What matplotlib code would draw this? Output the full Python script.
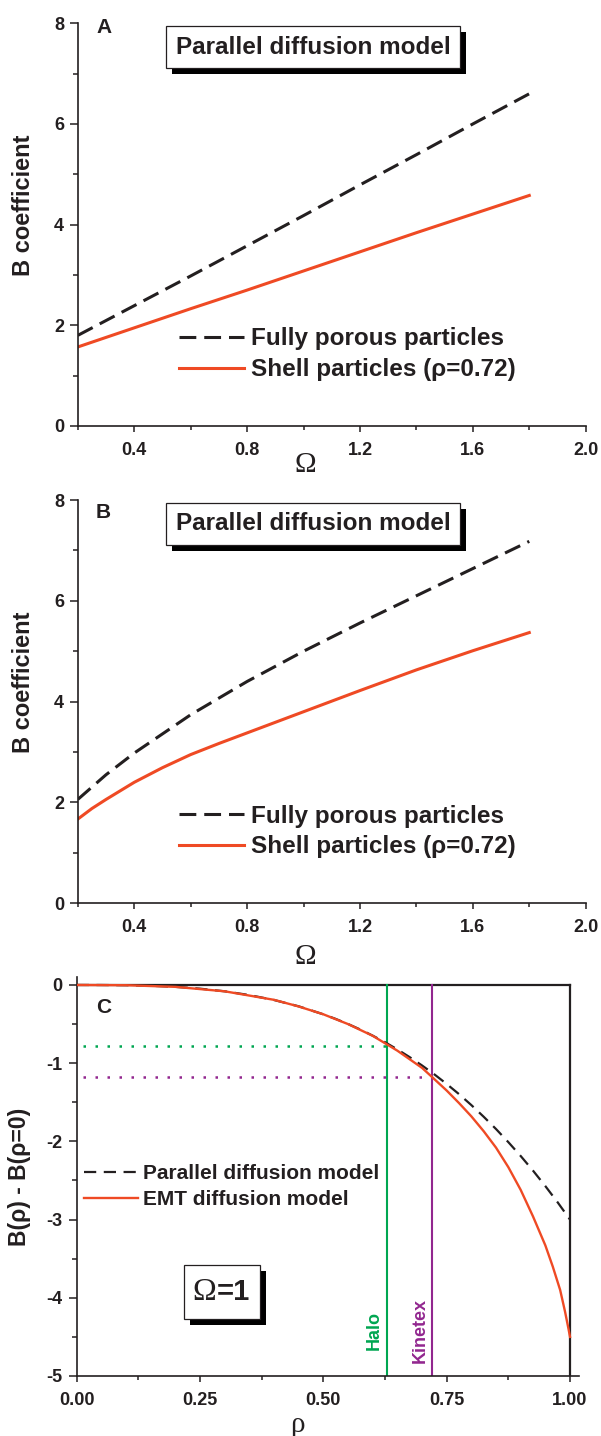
import matplotlib
matplotlib.use('Agg')
import matplotlib.pyplot as plt
from matplotlib import patheffects as pe
from matplotlib.patches import Rectangle
from matplotlib.ticker import FormatStrFormatter

plt.rcParams['font.family'] = ['Liberation Sans', 'DejaVu Sans']
plt.rcParams['font.weight'] = 'bold'
plt.rcParams['axes.unicode_minus'] = False

# ---------------- data ----------------
omega_a = [0.2, 0.4, 0.6, 0.8, 1.0, 1.2, 1.4, 1.6, 1.8]
a_porous = [1.80, 2.39, 2.98, 3.58, 4.18, 4.79, 5.39, 6.00, 6.60]
a_shell = [1.57, 1.95, 2.33, 2.70, 3.08, 3.46, 3.84, 4.21, 4.58]

omega_b_porous = [0.2, 0.3, 0.4, 0.6, 0.8, 1.0, 1.2, 1.4, 1.6, 1.8]
b_porous = [2.06, 2.55, 2.98, 3.74, 4.40, 5.00, 5.56, 6.10, 6.64, 7.18]
omega_b_shell = [0.2, 0.25, 0.3, 0.4, 0.5, 0.6, 0.7, 0.8, 1.0, 1.2, 1.4, 1.6, 1.8]
b_shell = [1.67, 1.88, 2.06, 2.40, 2.69, 2.95, 3.17, 3.38, 3.80, 4.22, 4.63, 5.01, 5.37]

rho_par = [0.0, 0.05, 0.1, 0.15, 0.2, 0.25, 0.3, 0.35, 0.4, 0.45, 0.5,
           0.525, 0.55, 0.575, 0.6, 0.625, 0.65, 0.675, 0.7, 0.725, 0.75,
           0.775, 0.8, 0.825, 0.85, 0.875, 0.9, 0.925, 0.95, 0.975, 1.0]
c_parallel = [0.0, -0.0004, -0.003, -0.010, -0.024, -0.047, -0.081, -0.129,
              -0.192, -0.273, -0.375, -0.434, -0.499, -0.570, -0.648, -0.732,
              -0.824, -0.923, -1.029, -1.143, -1.266, -1.396, -1.536, -1.685,
              -1.842, -2.010, -2.187, -2.374, -2.572, -2.780, -3.0]
rho_emt = [0.0, 0.1, 0.2, 0.3, 0.4, 0.45, 0.5, 0.55, 0.6, 0.65, 0.7, 0.72,
           0.75, 0.775, 0.8, 0.825, 0.85, 0.875, 0.9, 0.925, 0.95, 0.965,
           0.98, 0.99, 0.997, 1.0]
c_emt = [0.0, -0.003, -0.024, -0.081, -0.19, -0.275, -0.375, -0.50, -0.65,
         -0.84, -1.06, -1.175, -1.35, -1.51, -1.68, -1.87, -2.08, -2.33,
         -2.62, -2.96, -3.33, -3.60, -3.90, -4.18, -4.40, -4.50]

rho_halo, rho_kinetex = 0.63, 0.72
db_halo, db_kinetex = -0.78, -1.18

omega_ticks = [0.4, 0.8, 1.2, 1.6, 2.0]
omega_minor = [0.2, 0.6, 1.0, 1.4, 1.8]
b_ticks = [0, 2, 4, 6, 8]
b_minor = [1, 3, 5, 7]
rho_ticks = [0.0, 0.25, 0.5, 0.75, 1.0]
rho_minor = [0.125, 0.375, 0.625, 0.875]
d_ticks = [-5, -4, -3, -2, -1, 0]
d_minor = [-4.5, -3.5, -2.5, -1.5, -0.5]

# ---------------- style ----------------
INK = '#231F20'
ORANGE = '#EF4A24'
GREEN = '#00A651'
PURPLE = '#92278F'
SERIF = ['Liberation Serif', 'DejaVu Serif']
W, H = 601, 1436

fig = plt.figure(figsize=(W / 100, H / 100), dpi=100)


def frac(l, t, r, b):
    return [l / W, 1 - b / H, (r - l) / W, (b - t) / H]


def style_axes(ax):
    for s in ax.spines.values():
        s.set_linewidth(1.2)
        s.set_color(INK)
    ax.tick_params(which='both', direction='out', width=1.1, colors=INK)
    ax.tick_params(axis='y', which='major', length=6, labelsize=13, pad=4)
    ax.tick_params(axis='y', which='minor', length=3.6)
    ax.tick_params(axis='x', which='major', length=4.5, labelsize=13, pad=7)
    ax.tick_params(axis='x', which='minor', length=3)
    for lab in ax.get_xticklabels() + ax.get_yticklabels():
        lab.set_fontweight('bold')


SHADOW = [pe.withSimplePatchShadow(offset=(4.3, -4.3), shadow_rgbFace='black',
                                   alpha=1.0)]


def shadow_box(ax, x, y, text, size, pad):
    t = ax.text(x, y, text, transform=ax.transAxes, ha='center', va='center',
                fontsize=size, fontweight='bold', color=INK,
                bbox=dict(boxstyle='square,pad=%g' % pad, fc='white',
                          ec=INK, lw=0.9), zorder=10)
    t.get_bbox_patch().set_path_effects(SHADOW)
    return t


def omega_panel(rect, xp, yp, xs, ys, letter, letter_y, ylab_y, xlab_y):
    ax = fig.add_axes(frac(*rect))
    ax.plot(xp, yp, color=INK, lw=2.2, dashes=(5.5, 2.6),
            label='Fully porous particles')
    ax.plot(xs, ys, color=ORANGE, lw=2.2, label='Shell particles (\u03c1=0.72)')
    ax.set_xlim(0.2, 2.0)
    ax.set_ylim(0, 8)
    ax.spines['top'].set_visible(False)
    ax.spines['right'].set_visible(False)
    ax.set_xticks(omega_ticks)
    ax.set_xticks(omega_minor, minor=True)
    ax.set_yticks(b_ticks)
    ax.set_yticks(b_minor, minor=True)
    ax.xaxis.set_major_formatter(FormatStrFormatter('%.1f'))
    style_axes(ax)
    ax.set_ylabel('B coefficient', fontsize=17, fontweight='bold', color=INK)
    ax.yaxis.label.set_va('center')
    ax.yaxis.set_label_coords(-0.106, ylab_y)
    ax.text(0.447, xlab_y, '\u03a9', transform=ax.transAxes, ha='center',
            va='center', fontsize=21, fontweight='normal', color=INK,
            family=SERIF)
    ax.text(0.036, letter_y, letter, transform=ax.transAxes, ha='left',
            va='top', fontsize=15, fontweight='bold', color=INK)
    shadow_box(ax, 0.463, 0.941, 'Parallel diffusion model', 17.5, 0.4)
    leg = ax.legend(loc='center left', bbox_to_anchor=(0.2, 0.178),
                    frameon=False, fontsize=17.5, handlelength=2.67,
                    handletextpad=0.27, labelspacing=0.32, borderpad=0,
                    borderaxespad=0)
    for t in leg.get_texts():
        t.set_color(INK)
        t.set_fontweight('bold')
    return ax


axA = omega_panel((77.8, 23.3, 585.7, 426.0), omega_a, a_porous, omega_a,
                  a_shell, 'A', 1.013, 0.549, -0.097)
axB = omega_panel((77.8, 500.0, 585.7, 903.3), omega_b_porous, b_porous,
                  omega_b_shell, b_shell, 'B', 0.9926, 0.547, -0.133)

# ---------------- panel C ----------------
axC = fig.add_axes(frac(76.7, 977.0, 578.8, 1376.0))
xmax_c = 1.0178
ymax_c = 0.102
axC.set_xlim(0, xmax_c)
axC.set_ylim(-5, ymax_c)
axC.spines['top'].set_visible(False)
axC.spines['right'].set_visible(False)

axC.axhline(0, xmin=0, xmax=1.0 / xmax_c, color=INK, lw=1.6, zorder=1)
axC.axvline(1.0, ymin=0, ymax=5 / (5 + ymax_c), color=INK, lw=1.6, zorder=1)

axC.axvline(rho_halo, ymin=0, ymax=5 / (5 + ymax_c), color=GREEN, lw=1.5,
            zorder=2)
axC.axvline(rho_kinetex, ymin=0, ymax=5 / (5 + ymax_c), color=PURPLE, lw=1.5,
            zorder=2)
axC.hlines(db_halo, 0.012, rho_halo, color=GREEN, lw=1.8,
           linestyles=[(0, (1, 3.8))], zorder=2)
axC.hlines(db_kinetex, 0.012, rho_kinetex, color=PURPLE, lw=1.8,
           linestyles=[(0, (1, 3.8))], zorder=2)

axC.plot(rho_par, c_parallel, color=INK, lw=1.6, dashes=(5.5, 3.4),
         label='Parallel diffusion model', zorder=3)
axC.plot(rho_emt, c_emt, color=ORANGE, lw=1.7, label='EMT diffusion model',
         zorder=4)

axC.set_xticks(rho_ticks)
axC.set_xticks(rho_minor, minor=True)
axC.set_yticks(d_ticks)
axC.set_yticks(d_minor, minor=True)
axC.xaxis.set_major_formatter(FormatStrFormatter('%.2f'))
style_axes(axC)
axC.set_ylabel('B(\u03c1) - B(\u03c1=0)', fontsize=16.5, fontweight='bold',
               color=INK)
axC.yaxis.label.set_va('center')
axC.yaxis.set_label_coords(-0.114, 0.5)
axC.text(0.439, -0.123, '\u03c1', transform=axC.transAxes, ha='center',
         va='center', fontsize=21, fontweight='normal', color=INK,
         family=SERIF)
axC.text(0.038, 0.947, 'C', transform=axC.transAxes, ha='left', va='top',
         fontsize=15, fontweight='bold', color=INK)

axC.text(0.621, -4.67, 'Halo', rotation=90, ha='right', va='bottom',
         fontsize=13, fontweight='bold', color=GREEN)
axC.text(0.713, -4.84, 'Kinetex', rotation=90, ha='right', va='bottom',
         fontsize=13, fontweight='bold', color=PURPLE)

# Omega=1 box (white box with black drop shadow), serif Omega + bold "=1"
box = Rectangle((0.2137, 0.1429), 0.1514, 0.1353, transform=axC.transAxes,
                fc='white', ec=INK, lw=0.9, zorder=10)
box.set_path_effects(SHADOW)
axC.add_patch(box)
join_x, box_y = 0.278, 0.21
axC.text(join_x, box_y, '\u03a9', transform=axC.transAxes, ha='right',
         va='center', fontsize=23, fontweight='normal', color=INK,
         family=SERIF, zorder=12)
axC.text(join_x, box_y, '=1', transform=axC.transAxes, ha='left',
         va='center', fontsize=21, fontweight='bold', color=INK, zorder=12)

legC = axC.legend(loc='center left', bbox_to_anchor=(0.0137, 0.4744),
                  frameon=False, fontsize=15, handlelength=2.6,
                  handletextpad=0.27, labelspacing=0.32, borderpad=0,
                  borderaxespad=0)
for t in legC.get_texts():
    t.set_color(INK)
    t.set_fontweight('bold')

fig.savefig('out.png', dpi=100)
